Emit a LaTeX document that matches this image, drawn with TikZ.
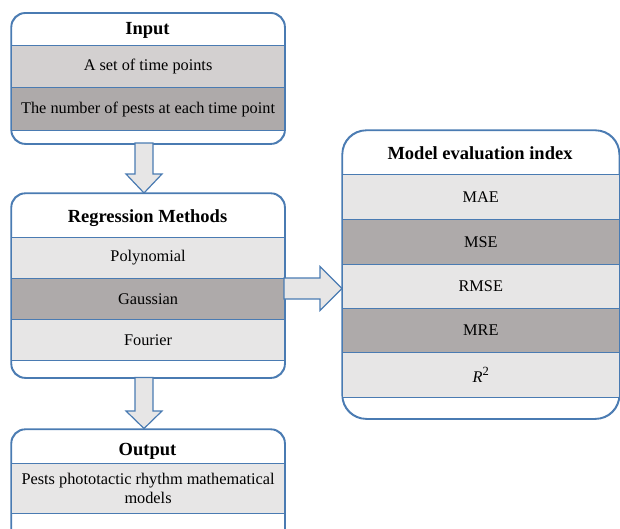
\documentclass[tikz,border=0pt]{standalone}
\usepackage{fontspec}
\setmainfont{Liberation Serif}
\definecolor{bordblue}{HTML}{4A7BB2}
\definecolor{lightg}{HTML}{E7E6E6}
\definecolor{midg}{HTML}{D3D0D0}
\definecolor{darkg}{HTML}{AEAAAA}
\begin{document}
\begin{tikzpicture}[x=1pt,y=-1pt,
  box/.style={draw=bordblue, line width=1.2pt, rounded corners=14pt, anchor=north west, inner sep=0pt, fill=white},
  row/.style={draw=bordblue, line width=1.1pt, anchor=north west, inner sep=0pt, minimum width=273pt, font=\fontsize{16.3}{19}\selectfont},
  rowr/.style={row, minimum width=276.5pt},
  head/.style={font=\fontsize{18.5}{22}\selectfont\bfseries},
  outline/.style={bordblue, line width=1.2pt},
  barrow/.style={draw=bordblue, fill=lightg, line width=1.2pt, line join=miter}]
\useasboundingbox (0,0) rectangle (620,528);
% Input box
\node[box, minimum width=273pt, minimum height=130.3pt] (input) at (11,12.7) {};
\node[row, fill=midg, minimum height=42pt] (in1) at (11,45) {A set of time points};
\node[row, fill=darkg, minimum height=43pt] (in2) at (11,87) {The number of pests at each time point};
\draw[outline, rounded corners=14pt] (input.north west) rectangle (input.south east);
\node[head] (inputT) at (147.5,30) {Input};
% Regression box
\node[box, minimum width=273pt, minimum height=184pt] (reg) at (11,193) {};
\node[row, fill=lightg, minimum height=41pt] (rg1) at (11,237) {Polynomial};
\node[row, fill=darkg, minimum height=41pt] (rg2) at (11,278) {Gaussian};
\node[row, fill=lightg, minimum height=41pt] (rg3) at (11,319) {Fourier};
\draw[outline, rounded corners=14pt] (reg.north west) rectangle (reg.south east);
\node[head] (regT) at (147.5,218) {Regression Methods};
% Model evaluation box
\node[box, minimum width=276.5pt, minimum height=288pt, rounded corners=24pt] (mod) at (342,130) {};
\node[rowr, fill=lightg, minimum height=45pt] (m1) at (342,174) {MAE};
\node[rowr, fill=darkg, minimum height=45pt] (m2) at (342,219) {MSE};
\node[rowr, fill=lightg, minimum height=44pt] (m3) at (342,264) {RMSE};
\node[rowr, fill=darkg, minimum height=44pt] (m4) at (342,308) {MRE};
\node[rowr, fill=lightg, minimum height=45pt] (m5) at (342,352) {\textit{R}\raisebox{0.45em}{\fontsize{12.5}{12.5}\selectfont 2}};
\draw[outline, rounded corners=24pt] (mod.north west) rectangle (mod.south east);
\node[head] (modT) at (480,153) {Model evaluation index};
% Output box
\node[box, minimum width=273pt, minimum height=116pt] (out) at (11,429) {};
\node[row, fill=lightg, minimum height=50pt, align=center] (o1) at (11,463) {Pests phototactic rhythm mathematical\\models};
\draw[outline, rounded corners=14pt] (out.north west) rectangle (out.south east);
\node[head] (outT) at (147.5,451) {Output};
% Block arrows
\draw[barrow] (135,143) -- (135,174) -- (126,174) -- (144,193) -- (162,174) -- (153,174) -- (153,143) -- cycle;
\draw[barrow] (135,377.5) -- (135,411) -- (126,411) -- (144,428.5) -- (162,411) -- (153,411) -- (153,377.5) -- cycle;
\draw[barrow] (284,278) -- (320,278) -- (320,266.5) -- (342,288.5) -- (320,310.5) -- (320,299) -- (284,299) -- cycle;
\end{tikzpicture}
\end{document}
